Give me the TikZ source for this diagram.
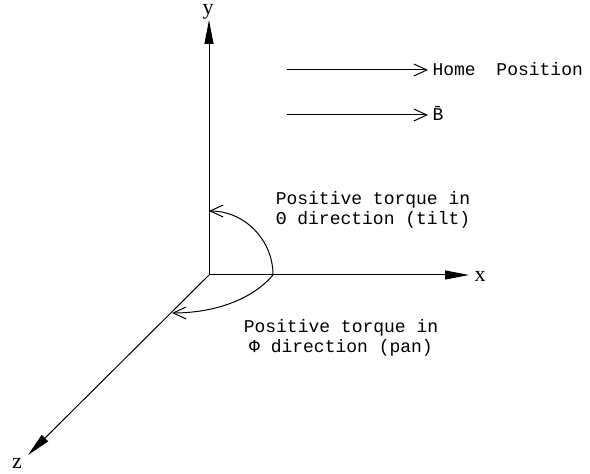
\documentclass[tikz,border=0pt]{standalone}
\usepackage{fontspec}
\setmainfont{Liberation Mono}
\newfontfamily\axisfont{Liberation Serif}
\usepackage{tikz}
\usetikzlibrary{arrows.meta}

\begin{document}
\begin{tikzpicture}[x = 0.5pt, y = 0.5pt, line width = 0.5pt,
    axis/.style = {-{Triangle[length = 12pt, width = 4.5pt]}},
    barb/.style = {-{Straight Barb[length = 6.5pt, width = 6pt]}},
    axislabel/.style = {font = \axisfont\fontsize{11}{12}\selectfont, inner sep = 0pt},
    note/.style = {font = \fontsize{9}{10}\selectfont, align = center, inner sep = 0pt},
    vecname/.style = {font = \fontsize{9}{10}\selectfont, anchor = west, inner sep = 2pt,
        text height = 5.3pt, text depth = 0pt}]
    \useasboundingbox (0,0) rectangle (590,474);

    % axes
    \begin{scope}
        \coordinate (O) at (209,199);
        \coordinate (ytip) at (209,454);
        \coordinate (xtip) at (469,199);
        \coordinate (ztip) at (28,19);

        \draw[axis] (O) -- (ytip);
        \draw[axis] (O) -- (xtip);
        \draw[axis] (O) -- (ztip);

        \node[axislabel] (ylab) at (208,462) {y};
        \node[axislabel] (xlab) at (480,198) {x};
        \node[axislabel] (zlab) at (17,11) {z};
    \end{scope}

    % home position and B
    \begin{scope}
        \coordinate (homestart) at (287,404);
        \coordinate (bstart) at (287,359);

        \node[vecname] (home) at (428,404) {Home\hspace{5pt} Position};
        \node[vecname] (bvec) at (428,359) {\=B};

        \draw[barb] (homestart) -- (home.west);
        \draw[barb] (bstart) -- (bvec.west);
    \end{scope}

    % torques
    \begin{scope}
        \coordinate (A) at (273,199);
        \coordinate (P) at (172,161);

        \draw[barb] (A) arc[start angle = 0, end angle = 90, radius = 64];
        \draw[barb] (A) .. controls (250,172) and (210,161) .. (P);

        \node[note] (tilt) at (373,264) {Positive torque in\\Θ direction (tilt)};
        \node[note] (pan) at (341,136) {Positive torque in\\Φ direction (pan)};
    \end{scope}

\end{tikzpicture}
\end{document}
